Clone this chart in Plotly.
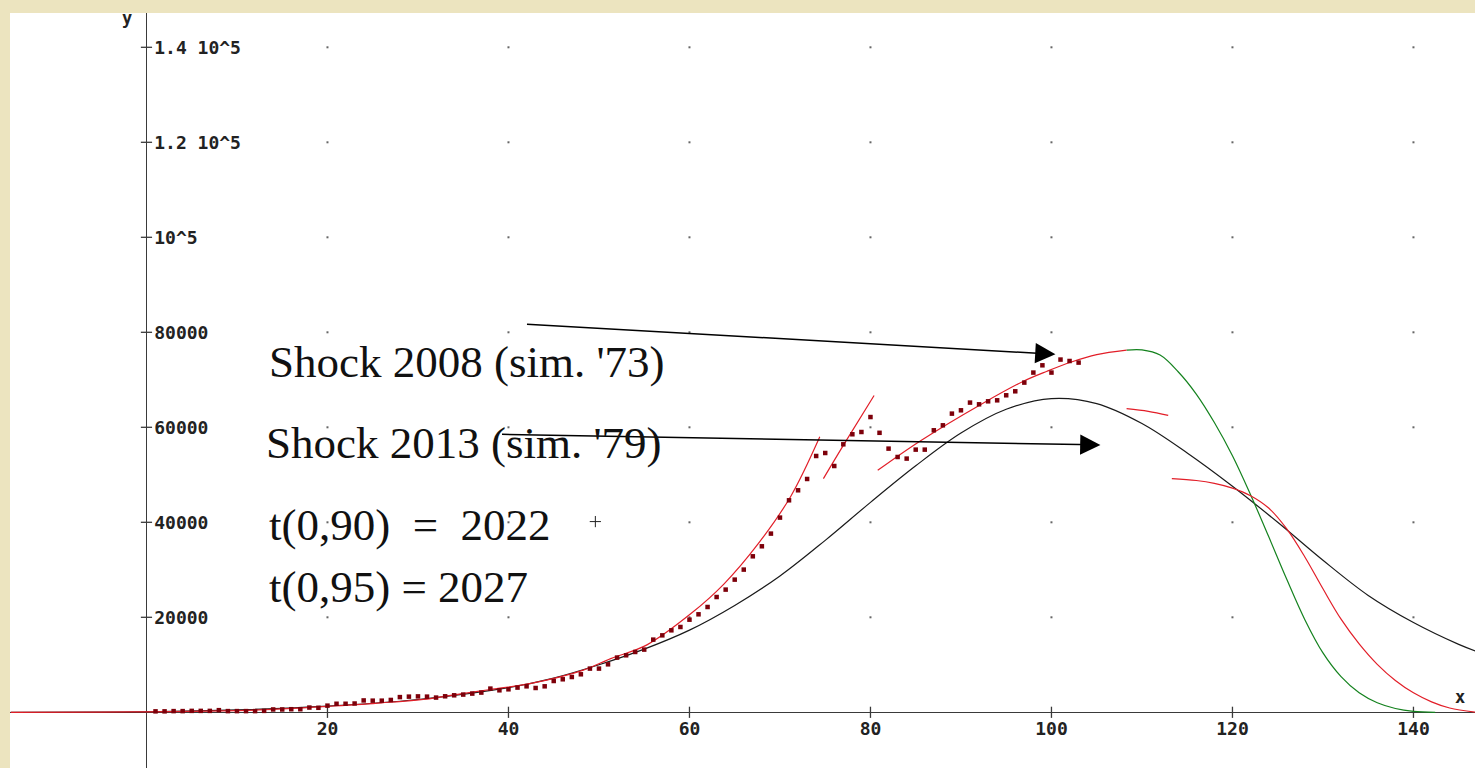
import plotly.graph_objects as go

# ---- observed yearly values (dark red squares) ----
obs_x = list(range(1, 104))
obs_y = [
    200, 200, 250, 250, 300, 300, 300, 450, 250, 250,
    250, 250, 300, 600, 600, 650, 650, 1000, 950, 1400,
    1800, 1800, 1850, 2500, 2450, 2450, 2600, 3200, 3300, 3350,
    3300, 3100, 3370, 3580, 3730, 3940, 4150, 4990, 4630, 4840,
    5200, 5470, 5120, 5470, 6590, 6950, 7430, 8000, 9200, 9200,
    10100, 11520, 12000, 12700, 13200, 15300, 16200, 17260, 17960, 19500,
    20630, 22170, 24270, 25830, 27930, 30040, 32840, 34950, 37620, 40990,
    44630, 46740, 49120, 53960, 54590, 51850, 56420, 58530, 59010, 62160,
    58840, 55510, 53750, 53410, 55300, 55300, 59370, 60420, 62880, 63580,
    65200, 64840, 65470, 65680, 66740, 67580, 69410, 71520, 73050, 71520,
    74260, 73960, 73620,
]

# ---- fitted curves ----
black_x = [-15, -5, 0, 10, 20, 30, 40, 45, 50, 55, 60, 65, 70, 75, 80, 85,
           90, 95, 100, 105, 110, 115, 120, 125, 130, 135, 140, 145, 147]
black_y = [0, 30, 100, 500, 1300, 2700, 5200, 7200, 10000, 13300, 17300,
           22500, 28700, 36200, 44200, 51900, 58800, 63800, 66050, 65000,
           60800, 54600, 47600, 40000, 32000, 24600, 18900, 14300, 12800]

red1_x = [-15, -5, 0, 5, 10, 14, 20, 26, 31.4, 35.1, 38, 42.5, 48.2, 51.3,
          55.3, 60.2, 63.8, 67.6, 71.2, 74.4]
red1_y = [0, 30, 100, 200, 350, 600, 1250, 2000, 2900, 4000, 4800, 6100,
          8840, 11300, 14200, 20840, 27000, 35500, 45500, 58000]

red2_x = [74.8, 77.1, 80.4]
red2_y = [49200, 56500, 66700]

red3_x = [80.8, 85.5, 92.2, 96.9, 99.5, 102.2, 105.0, 108.3]
red3_y = [50950, 57130, 64820, 69700, 71800, 73750, 75300, 76250]

red4_x = [108.3, 110.7, 112.9]
red4_y = [63930, 63370, 62520]

red5_x = [113.3, 116, 118, 120, 122, 124, 126, 128, 130, 132, 134, 136,
          138, 140, 142, 144, 146.9]
red5_y = [49200, 48800, 48200, 47200, 45600, 43000, 38600, 32700, 26000,
          19600, 14400, 10100, 6700, 4100, 2200, 900, 0]

green_x = [108.3, 110, 112, 114, 116, 118, 120, 122, 124, 126, 128, 130,
           132, 134, 136, 138, 140, 142.4]
green_y = [76250, 76300, 75200, 71700, 67000, 61000, 54000, 45800, 37000,
           28000, 19500, 12500, 7500, 4100, 2000, 800, 200, 0]

# ---- axes ----
x_ticks = [20, 40, 60, 80, 100, 120, 140]
x_tick_text = ["20", "40", "60", "80", "100", "120", "140"]
y_ticks = [20000, 40000, 60000, 80000, 100000, 120000, 140000]
y_tick_text = ["20000", "40000", "60000", "80000", "10^5", "1.2 10^5", "1.4 10^5"]

# ---- annotations ----
arrow_tail_x = [41.88, 39.12]
arrow_tail_y = [81720, 58530]
arrow_head_x = [100.44, 105.41]
arrow_head_y = [75370, 56290]
plus_x = [49.6]
plus_y = [40150]

X_RANGE = [-15.08, 146.8]
Y_RANGE = [-11726, 147221]

W, H = 1475, 768
ML, MT = 10, 13
PW, PH = W - ML, H - MT

MONO = "DejaVu Sans Mono"
SERIF = "Liberation Serif"
AXIS_COLOR = "#3a3a3a"
RED = "rgb(226,30,40)"

fig = go.Figure()

# grid dots at tick intersections
gx = [x for x in x_ticks for _ in y_ticks]
gy = [y for _ in x_ticks for y in y_ticks]
fig.add_trace(go.Scatter(x=gx, y=gy, mode="markers",
                         marker=dict(symbol="square", size=2, color="#666666"),
                         hoverinfo="skip"))

# tick marks crossing the axes
fig.add_trace(go.Scatter(x=x_ticks, y=[0] * len(x_ticks), mode="markers",
                         marker=dict(symbol="line-ns", size=8,
                                     line=dict(width=1.3, color=AXIS_COLOR)),
                         hoverinfo="skip"))
fig.add_trace(go.Scatter(x=[0] * len(y_ticks), y=y_ticks, mode="markers",
                         marker=dict(symbol="line-ew", size=8,
                                     line=dict(width=1.3, color=AXIS_COLOR)),
                         hoverinfo="skip"))

line_w = 1.2
fig.add_trace(go.Scatter(x=black_x, y=black_y, mode="lines",
                         line=dict(color="#1a1a1a", width=line_w, shape="spline")))
fig.add_trace(go.Scatter(x=green_x, y=green_y, mode="lines",
                         line=dict(color="rgb(20,130,30)", width=line_w, shape="spline")))
for cx, cy in [(red1_x, red1_y), (red2_x, red2_y), (red3_x, red3_y),
               (red4_x, red4_y), (red5_x, red5_y)]:
    fig.add_trace(go.Scatter(x=cx, y=cy, mode="lines",
                             line=dict(color=RED, width=line_w, shape="spline")))

fig.add_trace(go.Scatter(x=obs_x, y=obs_y, mode="markers",
                         marker=dict(symbol="square", size=4.5, color="rgb(125,0,10)")))

fig.add_trace(go.Scatter(x=plus_x, y=plus_y, mode="markers",
                         marker=dict(symbol="cross-thin", size=8,
                                     line=dict(width=1, color="#222222")),
                         hoverinfo="skip"))

annotations = []
for tx, ty, hx, hy in zip(arrow_tail_x, arrow_tail_y, arrow_head_x, arrow_head_y):
    annotations.append(dict(x=hx, y=hy, ax=tx, ay=ty, xref="x", yref="y",
                            axref="x", ayref="y", text="", showarrow=True,
                            arrowhead=2, arrowsize=2.7, arrowwidth=1.5,
                            arrowcolor="#000000", standoff=0, startstandoff=0))


def px_to_paper(px, py):
    return (px - ML) / PW, (H - py) / PH


texts = [
    ("Shock 2008 (sim. '73)", 267, 362),
    ("Shock 2013 (sim. '79)", 264, 443),
    ("t(0,90)\u00a0\u00a0=\u00a0\u00a02022", 267, 525),
    ("t(0,95) = 2027", 267, 587),
]
for t, px, py in texts:
    ax_, ay_ = px_to_paper(px, py)
    annotations.append(dict(x=ax_, y=ay_, xref="paper", yref="paper", text=t,
                            showarrow=False, xanchor="left", yanchor="middle",
                            font=dict(family=SERIF, size=45, color="#111111")))

for t, px, py in [("y", 127, 18), ("x", 1460, 697)]:
    ax_, ay_ = px_to_paper(px, py)
    annotations.append(dict(x=ax_, y=ay_, xref="paper", yref="paper", text=t,
                            showarrow=False, xanchor="center", yanchor="middle",
                            font=dict(family=MONO, size=17, color="#222222",
                                      weight="bold")))

y_axis_pos = (0 - X_RANGE[0]) / (X_RANGE[1] - X_RANGE[0])
x_axis_pos = (0 - Y_RANGE[0]) / (Y_RANGE[1] - Y_RANGE[0])

tick_font = dict(family=MONO, size=18, color="#222222", weight="bold")

fig.update_layout(
    width=W, height=H,
    margin=dict(l=ML, r=0, t=MT, b=0, pad=0),
    paper_bgcolor="rgb(236,228,191)",
    plot_bgcolor="#ffffff",
    showlegend=False,
    annotations=annotations,
    xaxis=dict(range=X_RANGE, showgrid=False, zeroline=False,
               anchor="free", position=x_axis_pos, layer="below traces",
               showline=True, linecolor=AXIS_COLOR, linewidth=1.4,
               tickvals=x_ticks, ticktext=x_tick_text, ticks="",
               ticklabelstandoff=0, tickfont=tick_font),
    yaxis=dict(range=Y_RANGE, showgrid=False, zeroline=False,
               anchor="free", position=y_axis_pos, side="right",
               layer="below traces",
               showline=True, linecolor=AXIS_COLOR, linewidth=1.4,
               tickvals=y_ticks, ticktext=y_tick_text, ticks="",
               ticklabelstandoff=3, tickfont=tick_font),
)

fig.write_html("out.html")
